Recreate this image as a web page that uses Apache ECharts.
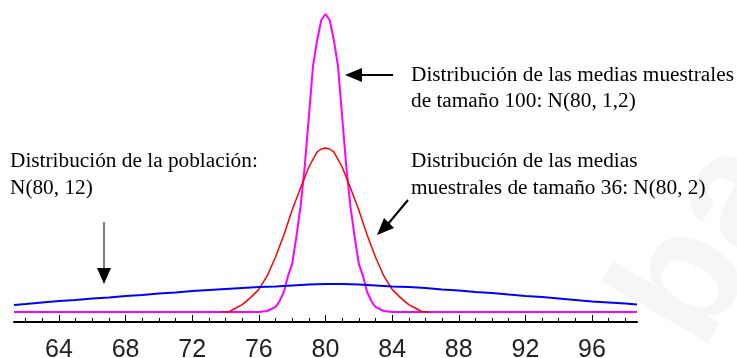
<!DOCTYPE html>
<html>
<head>
<meta charset="utf-8">
<script src="https://cdn.jsdelivr.net/npm/echarts@6/dist/echarts.min.js"></script>
<style>
  html, body { margin: 0; padding: 0; background: #fff; }
  #main { width: 737px; height: 358px; }
</style>
</head>
<body>
<div id="main"></div>
<script>
  // valores (densidad aproximada)
  const xMin = 61.3, xMax = 98.7;

  const magentaX = [61.3, 76.0, 76.5, 77.0, 77.25, 77.5, 77.75, 78.0, 78.25, 78.5, 78.75, 79.0, 79.25, 79.5, 79.75, 80.0,
    80.25, 80.5, 80.75, 81.0, 81.25, 81.5, 81.75, 82.0, 82.25, 82.5, 82.75, 83.0, 83.5, 84.0, 98.7];
  const magentaY = [0, 0, 0.0011, 0.0056, 0.0123, 0.0223, 0.0402, 0.0536, 0.0837, 0.1172, 0.1618, 0.2176, 0.2746, 0.3036, 0.3259, 0.3326,
    0.3259, 0.3036, 0.2746, 0.2176, 0.1618, 0.1172, 0.0837, 0.0536, 0.0402, 0.0223, 0.0123, 0.0056, 0.0011, 0, 0];

  const redX = [73.75, 74.25, 74.5, 75.0, 75.5, 76.0, 76.5, 77.0, 77.5, 78.0, 78.5, 79.0, 79.5, 79.75, 80.0,
    80.25, 80.5, 81.0, 81.5, 82.0, 82.5, 83.0, 83.5, 84.0, 84.5, 85.0, 85.5, 85.75, 86.25];
  const redY = [0, 0.0006, 0.0033, 0.0082, 0.0160, 0.0252, 0.0402, 0.0614, 0.0859, 0.1138, 0.1384, 0.1618, 0.1786, 0.1819, 0.1830,
    0.1819, 0.1786, 0.1618, 0.1384, 0.1138, 0.0859, 0.0614, 0.0402, 0.0252, 0.0160, 0.0082, 0.0033, 0.0006, 0];

  const blueX = [61.3, 62, 63, 64, 65, 66, 67, 68, 69, 70, 71, 72, 73, 74, 75, 76, 77, 78, 79, 80,
    81, 82, 83, 84, 85, 86, 87, 88, 89, 90, 91, 92, 93, 94, 95, 96, 97, 98, 98.7];
  const blueY = [0.0078, 0.0089, 0.0106, 0.0123, 0.0134, 0.0151, 0.0162, 0.0179, 0.0190, 0.0206, 0.0218, 0.0234, 0.0246, 0.0257, 0.0268, 0.0279, 0.0285, 0.0296, 0.0307, 0.0312,
    0.0312, 0.0307, 0.0296, 0.0285, 0.0279, 0.0268, 0.0251, 0.0240, 0.0223, 0.0212, 0.0195, 0.0179, 0.0167, 0.0151, 0.0134, 0.0117, 0.0106, 0.0095, 0.0084];

  const majorTicks = [64, 68, 72, 76, 80, 84, 88, 92, 96];
  const minorTicks = [62, 63, 65, 66, 67, 69, 70, 71, 73, 74, 75, 77, 78, 79, 81, 82, 83, 85, 86, 87, 89, 90, 91, 93, 94, 95, 97, 98];

  const pairs = (xs, ys) => xs.map((x, i) => [x, ys[i]]);

  const serif = '"Liberation Serif", "Times New Roman", serif';
  const txt = (x, y, s) => ({
    type: 'text', left: x, top: y,
    style: {text: s, font: '21.3px ' + serif, fill: '#000'}
  });

  const chart = echarts.init(document.getElementById('main'));
  chart.setOption({
    animation: false,
    grid: {left: 14, right: 100, top: 0, bottom: 36, containLabel: false, outerBoundsMode: 'none'},
    xAxis: [
      {
        type: 'value', min: xMin, max: xMax,
        axisLine: {onZero: false, lineStyle: {color: '#000', width: 2}},
        axisTick: {inside: true, length: 7, customValues: majorTicks, lineStyle: {color: '#000', width: 1}},
        axisLabel: {
          customValues: majorTicks, margin: 16, color: '#222',
          fontFamily: '"Liberation Sans Narrow", "Liberation Sans", sans-serif', fontSize: 25
        },
        splitLine: {show: false}
      },
      {
        type: 'value', min: xMin, max: xMax, position: 'bottom',
        axisLine: {show: false, onZero: false},
        axisTick: {inside: true, length: 4, customValues: minorTicks, lineStyle: {color: '#000', width: 1}},
        axisLabel: {show: false},
        splitLine: {show: false}
      }
    ],
    yAxis: {type: 'value', min: -0.0112, max: 0.3482, show: false},
    series: [
      {type: 'line', data: pairs(magentaX, magentaY), showSymbol: false, lineStyle: {color: '#ff00ff', width: 2}},
      {type: 'line', data: pairs(redX, redY), showSymbol: false, lineStyle: {color: '#ff0000', width: 1.5}},
      {type: 'line', data: pairs(blueX, blueY), showSymbol: false, lineStyle: {color: '#0000ff', width: 2}}
    ],
    graphic: [
      // marca de agua tenue
      {
        type: 'text', x: 735, y: 372, rotation: 1.05, z: -10,
        style: {text: 'ba', font: 'bold 170px "Liberation Sans", sans-serif', fill: '#f6f6f6', verticalAlign: 'bottom'}
      },
      txt(411, 65, 'Distribución de las medias muestrales'),
      txt(411, 91, 'de tamaño 100: N(80, 1,2)'),
      txt(411, 151, 'Distribución de las medias'),
      txt(411, 178, 'muestrales de tamaño 36: N(80, 2)'),
      txt(10, 151, 'Distribución de la población:'),
      txt(10, 178, 'N(80, 12)'),
      // flechas
      {type: 'line', shape: {x1: 393, y1: 75, x2: 360, y2: 75}, style: {stroke: '#000', lineWidth: 2}},
      {type: 'polygon', shape: {points: [[345, 75], [362, 68], [362, 82]]}, style: {fill: '#000'}},
      {type: 'line', shape: {x1: 104, y1: 222, x2: 104, y2: 270}, style: {stroke: '#000', lineWidth: 1}},
      {type: 'polygon', shape: {points: [[104, 284], [97, 268], [111, 268]]}, style: {fill: '#000'}},
      {type: 'line', shape: {x1: 408, y1: 200, x2: 388, y2: 224}, style: {stroke: '#000', lineWidth: 2}},
      {type: 'polygon', shape: {points: [[377, 235], [394, 228], [384, 218]]}, style: {fill: '#000'}}
    ]
  });
</script>
</body>
</html>
